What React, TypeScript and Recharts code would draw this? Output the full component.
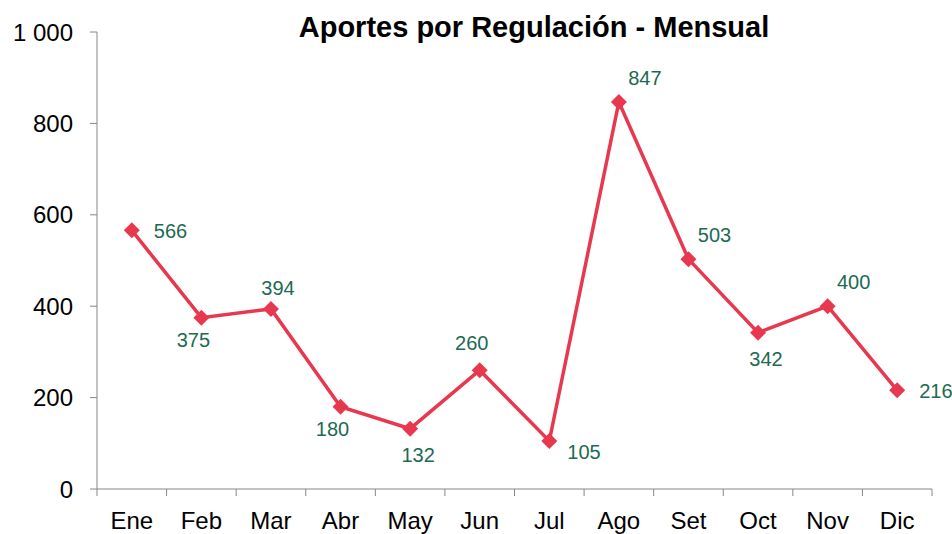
import { LineChart, Line, XAxis, YAxis, LabelList } from 'recharts';

const months = ['Ene', 'Feb', 'Mar', 'Abr', 'May', 'Jun', 'Jul', 'Ago', 'Set', 'Oct', 'Nov', 'Dic'];
const aportes = [566, 375, 394, 180, 132, 260, 105, 847, 503, 342, 400, 216];
// where each value label sits relative to its point (as in the original)
const labelSide = ['r', 'bl', 'tn', 'bl', 'br', 'tl', 'rb', 'tr', 'tr', 'br', 'tr', 'r'];
const yTicks = [0, 200, 400, 600, 800, 1000];

const W = 952;
const H = 534;
const LEFT = 97;
const RIGHT = 932;
const BAND = (RIGHT - LEFT) / months.length;
const FONT = '"Liberation Sans", Arial, sans-serif';
const AXIS = '#868686';
const RED = '#E8384F';
const GREEN = '#1D6A53';

const data = months.map((m, i) => ({ month: m, value: aportes[i] }));

function fmt(v: number) {
  return v >= 1000 ? `${Math.floor(v / 1000)} ${String(v % 1000).padStart(3, '0')}` : String(v);
}

function Diamond(props: any) {
  const { cx, cy } = props;
  if (cx == null || cy == null) return null;
  const r = 8;
  return <polygon points={`${cx},${cy - r} ${cx + r},${cy} ${cx},${cy + r} ${cx - r},${cy}`} fill={RED} />;
}

function MonthTick(props: any) {
  const { x, y, payload, index } = props;
  const last = index === months.length - 1;
  return (
    <g>
      <line x1={x - BAND / 2} x2={x - BAND / 2} y1={y} y2={y + 7} stroke={AXIS} />
      {last && <line x1={x + BAND / 2} x2={x + BAND / 2} y1={y} y2={y + 7} stroke={AXIS} />}
      <text x={x} y={y + 31} textAnchor="middle" dominantBaseline="central" fontSize={24} fill="#000" fontFamily={FONT}>
        {payload.value}
      </text>
    </g>
  );
}

const offsets: Record<string, [number, number, 'start' | 'middle']> = {
  r: [22, 1, 'start'],
  rb: [18, 11, 'start'],
  bl: [-8, 22, 'middle'],
  br: [8, 26, 'middle'],
  tl: [-8, -27, 'middle'],
  tn: [7, -21, 'middle'],
  tr: [26, -24, 'middle'],
};

function ValueLabel(props: any) {
  const { x, y, value, index } = props;
  const [dx, dy, anchor] = offsets[labelSide[index]];
  return (
    <text x={x + dx} y={y + dy} textAnchor={anchor} dominantBaseline="central" fontSize={20} fill={GREEN} fontFamily={FONT}>
      {value}
    </text>
  );
}

export default function App() {
  return (
    <div style={{ position: 'fixed', left: 0, top: 0, width: W, height: H, background: '#fff', fontFamily: FONT }}>
      <LineChart width={W} height={H} data={data} margin={{ top: 32, right: W - RIGHT, bottom: 0, left: 0 }}>
        <text x={534} y={27} textAnchor="middle" dominantBaseline="central" fontSize={29} fontWeight="bold" fill="#000" fontFamily={FONT}>
          Aportes por Regulación - Mensual
        </text>
        <XAxis
          dataKey="month"
          height={45}
          padding={{ left: BAND / 2, right: BAND / 2 }}
          axisLine={{ stroke: AXIS }}
          tickLine={false}
          tickSize={0}
          tickMargin={0}
          interval={0}
          tick={<MonthTick />}
        />
        <YAxis
          width={LEFT}
          domain={[0, 1000]}
          ticks={yTicks}
          tickFormatter={fmt}
          axisLine={{ stroke: AXIS }}
          tickLine={{ stroke: AXIS }}
          tickSize={7}
          tickMargin={17}
          tick={{ fontSize: 24, fill: '#000', fontFamily: FONT }}
          interval={0}
        />
        <Line
          dataKey="value"
          stroke={RED}
          strokeWidth={3.5}
          dot={<Diamond />}
          activeDot={false}
          isAnimationActive={false}
        >
          <LabelList dataKey="value" content={<ValueLabel />} />
        </Line>
      </LineChart>
    </div>
  );
}
